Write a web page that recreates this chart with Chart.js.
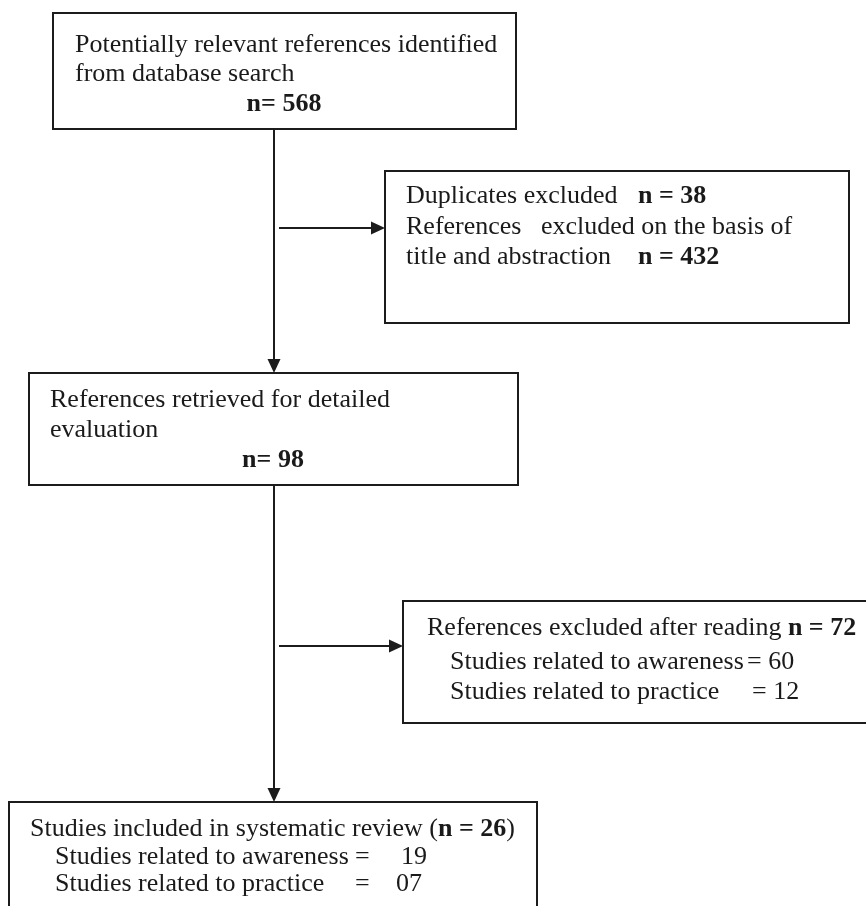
<!DOCTYPE html>
<html>
<head>
<meta charset="utf-8">
<script src="https://cdn.jsdelivr.net/npm/chart.js@4/dist/chart.umd.min.js"></script>
<style>
  html, body { margin: 0; padding: 0; background: #fff; }
  #wrap { width: 866px; height: 906px; }
</style>
</head>
<body>
<div id="wrap"><canvas id="flow" width="866" height="906"></canvas></div>
<script>
// Study selection counts
const sourceLabel = ['Potentially relevant references identified', 'from database search'];
const identifiedCount = 568;
const duplicateCount = 38;
const screenedOutCount = 432;
const retrievedLabel = ['References retrieved for detailed', 'evaluation'];
const retrievedCount = 98;
const readingExcludedCount = 72;
const topicLabels = ['Studies related to awareness', 'Studies related to practice'];
const readingExcludedByTopic = [60, 12];
const includedCount = 26;
const includedByTopic = ['19', '07'];

// layout in scale units (same as pixels here)
const boxes = [
    { x0: 53, y0: 13, x1: 516, y1: 129 },
    { x0: 385, y0: 171, x1: 849, y1: 323 },
    { x0: 29, y0: 373, x1: 518, y1: 485 },
    { x0: 403, y0: 601, x1: 874, y1: 723 },
    { x0: 9, y0: 802, x1: 537, y1: 920 }
];
const spineX = 274;
const branchY = [228, 646];

const FONT = '"Liberation Serif", "Times New Roman", serif';
const SIZE = 26;

function buildLines() {
    return [
        { x: 75, y: 45, parts: [{ t: sourceLabel[0] }] },
        { x: 75, y: 74, parts: [{ t: sourceLabel[1] }] },
        { x: 284, y: 104, align: 'center', parts: [{ t: 'n= ' + identifiedCount, b: true }] },

        { x: 406, y: 196, parts: [{ t: 'Duplicates excluded' }, { t: 'n = ' + duplicateCount, b: true, at: 638 }] },
        { x: 406, y: 227, parts: [{ t: 'References' }, { t: 'excluded on the basis of', at: 541 }] },
        { x: 406, y: 257, parts: [{ t: 'title and abstraction' }, { t: 'n = ' + screenedOutCount, b: true, at: 638 }] },

        { x: 50, y: 400, parts: [{ t: retrievedLabel[0] }] },
        { x: 50, y: 430, parts: [{ t: retrievedLabel[1] }] },
        { x: 273, y: 460, align: 'center', parts: [{ t: 'n= ' + retrievedCount, b: true }] },

        { x: 427, y: 628, parts: [{ t: 'References excluded after reading ' }, { t: 'n = ' + readingExcludedCount, b: true }] },
        { x: 450, y: 662, parts: [{ t: topicLabels[0] }, { t: '= ' + readingExcludedByTopic[0], at: 747 }] },
        { x: 450, y: 692, parts: [{ t: topicLabels[1] }, { t: '= ' + readingExcludedByTopic[1], at: 752 }] },

        { x: 30, y: 829, parts: [{ t: 'Studies included in systematic review (' }, { t: 'n = ' + includedCount, b: true }, { t: ')' }] },
        { x: 55, y: 857, parts: [{ t: topicLabels[0] }, { t: '=', at: 355 }, { t: includedByTopic[0], at: 427, right: true }] },
        { x: 55, y: 884, parts: [{ t: topicLabels[1] }, { t: '=', at: 355 }, { t: includedByTopic[1], at: 422, right: true }] }
    ];
}

const flowPlugin = {
    id: 'flow',
    afterDraw(chart) {
        const ctx = chart.ctx;
        const sx = chart.scales.x, sy = chart.scales.y;
        const px = v => sx.getPixelForValue(v);
        const py = v => sy.getPixelForValue(v);
        ctx.save();
        ctx.strokeStyle = '#1c1c1c';
        ctx.fillStyle = '#1c1c1c';
        ctx.lineWidth = 2;

        boxes.forEach(b => {
            ctx.strokeRect(px(b.x0), py(b.y0), px(b.x1) - px(b.x0), py(b.y1) - py(b.y0));
        });

        function line(x0, y0, x1, y1) {
            ctx.beginPath();
            ctx.moveTo(px(x0), py(y0));
            ctx.lineTo(px(x1), py(y1));
            ctx.stroke();
        }
        function head(x, y, dir) {
            const L = 14, W = 6.5;
            ctx.beginPath();
            if (dir === 'down') {
                ctx.moveTo(px(x), py(y));
                ctx.lineTo(px(x) - W, py(y) - L);
                ctx.lineTo(px(x) + W, py(y) - L);
            } else {
                ctx.moveTo(px(x), py(y));
                ctx.lineTo(px(x) - L, py(y) - W);
                ctx.lineTo(px(x) - L, py(y) + W);
            }
            ctx.closePath();
            ctx.fill();
        }

        line(spineX, boxes[0].y1, spineX, boxes[2].y0 - 10);
        head(spineX, boxes[2].y0, 'down');
        line(spineX, boxes[2].y1, spineX, boxes[4].y0 - 10);
        head(spineX, boxes[4].y0, 'down');
        line(spineX + 5, branchY[0], boxes[1].x0 - 10, branchY[0]);
        head(boxes[1].x0, branchY[0], 'right');
        line(spineX + 5, branchY[1], boxes[3].x0 - 10, branchY[1]);
        head(boxes[3].x0, branchY[1], 'right');

        ctx.textBaseline = 'middle';
        ctx.fillStyle = '#1a1a1a';
        const fontOf = p => (p.b ? 'bold ' : '') + SIZE + 'px ' + FONT;
        buildLines().forEach(ln => {
            let x = px(ln.x);
            if (ln.align === 'center') {
                let w = 0;
                ln.parts.forEach(p => { ctx.font = fontOf(p); w += ctx.measureText(p.t).width; });
                x -= w / 2;
            }
            ln.parts.forEach(p => {
                ctx.font = fontOf(p);
                const w = ctx.measureText(p.t).width;
                if (p.at !== undefined) x = p.right ? px(p.at) - w : px(p.at);
                ctx.fillText(p.t, x, py(ln.y));
                x += w;
            });
        });
        ctx.restore();
    }
};

new Chart(document.getElementById('flow').getContext('2d'), {
    type: 'scatter',
    data: { datasets: [{ data: [], pointRadius: 0 }] },
    options: {
        responsive: false,
        animation: false,
        events: [],
        layout: { padding: 0 },
        plugins: { legend: { display: false }, tooltip: { enabled: false } },
        scales: {
            x: { type: 'linear', min: 0, max: 866, display: false },
            y: { type: 'linear', min: 0, max: 906, reverse: true, display: false }
        }
    },
    plugins: [flowPlugin]
});
</script>
</body>
</html>
